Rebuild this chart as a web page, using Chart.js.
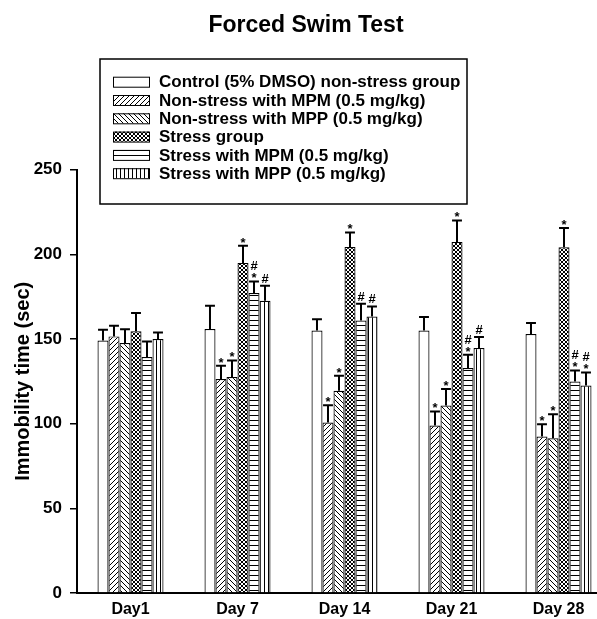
<!DOCTYPE html>
<html><head><meta charset="utf-8">
<script src="https://cdn.jsdelivr.net/npm/chart.js@4/dist/chart.umd.min.js"></script>
<style>
html,body{margin:0;padding:0;background:#fff;overflow:hidden;}
#wrap{position:relative;width:644px;height:619px;}
canvas{display:block;}
</style></head><body>
<div id="wrap"><canvas id="c" width="644" height="619"></canvas></div>
<script>
// ---------- data ----------
const categories = ['Day1', 'Day 7', 'Day 14', 'Day 21', 'Day 28'];
const seriesNames = [
  'Control (5% DMSO) non-stress group',
  'Non-stress with MPM (0.5 mg/kg)',
  'Non-stress with MPP (0.5 mg/kg)',
  'Stress group',
  'Stress with MPM (0.5 mg/kg)',
  'Stress with MPP (0.5 mg/kg)'
];
const controlVals   = [149.1, 155.9, 155.0, 155.0, 152.9];
const controlErr    = [6.3, 13.7, 6.7, 7.9, 6.5];
const mpmVals       = [151.5, 126.3, 100.7, 98.9, 92.4];
const mpmErr        = [6.3, 7.9, 10.2, 8.3, 7.3];
const mppVals       = [147.6, 127.5, 119.4, 110.7, 91.4];
const mppErr        = [8.2, 9.8, 8.9, 9.7, 14.2];
const stressVals    = [154.5, 194.9, 204.3, 207.3, 204.1];
const stressErr     = [10.8, 10.2, 8.6, 12.7, 11.4];
const stressMpmVals = [139.3, 177.1, 160.9, 132.8, 124.9];
const stressMpmErr  = [9.2, 6.9, 9.9, 7.9, 6.5];
const stressMppVals = [150.0, 172.6, 163.3, 144.6, 122.5];
const stressMppErr  = [3.8, 8.8, 5.9, 6.5, 7.7];
// significance marks, listed top to bottom
const controlSig   = [[], [], [], [], []];
const mpmSig       = [[], ['*'], ['*'], ['*'], ['*']];
const mppSig       = [[], ['*'], ['*'], ['*'], ['*']];
const stressSig    = [[], ['*'], ['*'], ['*'], ['*']];
const stressMpmSig = [[], ['#', '*'], ['#'], ['#', '*'], ['#', '*']];
const stressMppSig = [[], ['#'], ['#'], ['#'], ['#', '*']];
const yTicks = [0, 50, 100, 150, 200, 250];

// ---------- patterns ----------
const tmpCtx = document.getElementById('c').getContext('2d');
function pat(kind) {
  if (kind === 'plain') return '#fff';
  const s = kind === 'cross' || kind === 'vert' ? 4 : 5;
  const c = document.createElement('canvas');
  c.width = s; c.height = s;
  const g = c.getContext('2d');
  g.fillStyle = '#fff'; g.fillRect(0, 0, s, s);
  g.strokeStyle = '#000'; g.lineWidth = 1;
  g.beginPath();
  if (kind === 'fwd' || kind === 'cross') {
    g.moveTo(-1, s + 1); g.lineTo(s + 1, -1);
    g.moveTo(-1, 1); g.lineTo(1, -1);
    g.moveTo(s - 1, s + 1); g.lineTo(s + 1, s - 1);
  }
  if (kind === 'back' || kind === 'cross') {
    g.moveTo(-1, -1); g.lineTo(s + 1, s + 1);
    g.moveTo(s - 1, -1); g.lineTo(s + 1, 1);
    g.moveTo(-1, s - 1); g.lineTo(1, s + 1);
  }
  if (kind === 'horiz') { g.moveTo(0, 0.5); g.lineTo(s, 0.5); }
  if (kind === 'vert') { g.moveTo(0.5, 0); g.lineTo(0.5, s); }
  g.stroke();
  return tmpCtx.createPattern(c, 'repeat');
}

const allVals = [controlVals, mpmVals, mppVals, stressVals, stressMpmVals, stressMppVals];
const allErr  = [controlErr, mpmErr, mppErr, stressErr, stressMpmErr, stressMppErr];
const allSig  = [controlSig, mpmSig, mppSig, stressSig, stressMpmSig, stressMppSig];
const kinds   = ['plain', 'fwd', 'back', 'cross', 'horiz', 'vert'];

const FONT = "'Liberation Sans', Arial, sans-serif";

const datasets = seriesNames.map((name, i) => ({
  label: name,
  data: allVals[i],
  errors: allErr[i],
  sig: allSig[i],
  backgroundColor: pat(kinds[i]),
  borderColor: '#000',
  borderWidth: 1.2,
  borderSkipped: 'bottom',
  barPercentage: 1,
  categoryPercentage: 0.617
}));

// ---------- plugins ----------
const errorBarPlugin = {
  id: 'errorBars',
  afterDatasetsDraw(chart) {
    const ctx = chart.ctx;
    const yScale = chart.scales.y;
    ctx.save();
    chart.data.datasets.forEach((ds, i) => {
      const meta = chart.getDatasetMeta(i);
      meta.data.forEach((bar, j) => {
        const v = ds.data[j], e = ds.errors[j];
        const yTop = bar.y;
        const yErr = yScale.getPixelForValue(v + e);
        const half = bar.width * 0.45;
        ctx.strokeStyle = '#000';
        ctx.lineWidth = 2;
        ctx.beginPath();
        ctx.moveTo(bar.x, yTop);
        ctx.lineTo(bar.x, yErr);
        ctx.moveTo(bar.x - half, yErr);
        ctx.lineTo(bar.x + half, yErr);
        ctx.stroke();
        // significance marks
        const marks = ds.sig[j] || [];
        ctx.fillStyle = '#000';
        ctx.font = 'bold 13px ' + FONT;
        ctx.textAlign = 'center';
        ctx.textBaseline = 'alphabetic';
        let bottom = yErr - 3;
        for (let k = marks.length - 1; k >= 0; k--) {
          const m = ctx.measureText(marks[k]);
          const desc = m.actualBoundingBoxDescent;
          const asc = m.actualBoundingBoxAscent;
          const baseline = bottom - desc;
          ctx.fillText(marks[k], bar.x, baseline);
          bottom = baseline - asc - 3;
        }
      });
    });
    ctx.restore();
  }
};

const boxLegendPlugin = {
  id: 'boxLegend',
  afterDraw(chart, args, opts) {
    const ctx = chart.ctx;
    ctx.save();
    ctx.fillStyle = '#fff';
    ctx.fillRect(opts.left, opts.top, opts.right - opts.left, opts.bottom - opts.top);
    ctx.strokeStyle = '#000';
    ctx.lineWidth = 1.5;
    ctx.strokeRect(opts.left, opts.top, opts.right - opts.left, opts.bottom - opts.top);
    ctx.font = 'bold ' + opts.fontSize + 'px ' + FONT;
    ctx.textAlign = 'left';
    ctx.textBaseline = 'middle';
    chart.data.datasets.forEach((ds, i) => {
      const cy = opts.firstRow + i * opts.rowStep;
      ctx.fillStyle = ds.backgroundColor;
      ctx.fillRect(opts.swX, cy - opts.swH / 2, opts.swW, opts.swH);
      ctx.strokeStyle = '#000';
      ctx.lineWidth = 1;
      ctx.strokeRect(opts.swX + 0.5, cy - opts.swH / 2 + 0.5, opts.swW, opts.swH);
      ctx.fillStyle = '#000';
      ctx.fillText(ds.label, opts.textX, cy + 1);
    });
    ctx.restore();
  }
};

new Chart(document.getElementById('c'), {
  type: 'bar',
  data: { labels: categories, datasets },
  plugins: [errorBarPlugin, boxLegendPlugin],
  options: {
    responsive: false,
    animation: false,
    devicePixelRatio: 1,
    layout: { padding: { left: 0, right: 32, top: 0, bottom: 0 } },
    plugins: {
      legend: { display: false },
      tooltip: { enabled: false },
      title: {
        display: true,
        text: 'Forced Swim Test',
        color: '#000',
        font: { family: FONT, size: 23, weight: 'bold' },
        padding: { top: 12, bottom: 130 }
      },
      boxLegend: {
        left: 100, top: 59, right: 467, bottom: 204,
        swX: 113, swW: 36, swH: 10,
        textX: 159, firstRow: 81.7, rowStep: 18.3, fontSize: 17
      }
    },
    scales: {
      x: {
        grid: { display: true, drawOnChartArea: false, drawTicks: false },
        border: { display: true, color: '#000', width: 2 },
        ticks: { color: '#000', font: { family: FONT, size: 16, weight: 'bold' }, padding: 7 },
        afterFit(s) { s.height = 26; }
      },
      y: {
        min: 0, max: 250,
        afterBuildTicks(s) { s.ticks = yTicks.map(v => ({ value: v })); },
        grid: { drawOnChartArea: false, drawTicks: true, tickLength: 7, color: '#000', lineWidth: 1.5 },
        border: { display: true, color: '#000', width: 2 },
        ticks: { color: '#000', font: { family: FONT, size: 17, weight: 'bold' }, padding: 8 },
        title: {
          display: true,
          text: 'Immobility time (sec)',
          color: '#000',
          font: { family: FONT, size: 20, weight: 'bold' },
          padding: { top: 11, bottom: 0 }
        },
        afterFit(s) { s.width = 77; }
      }
    }
  }
});
</script>
</body></html>
